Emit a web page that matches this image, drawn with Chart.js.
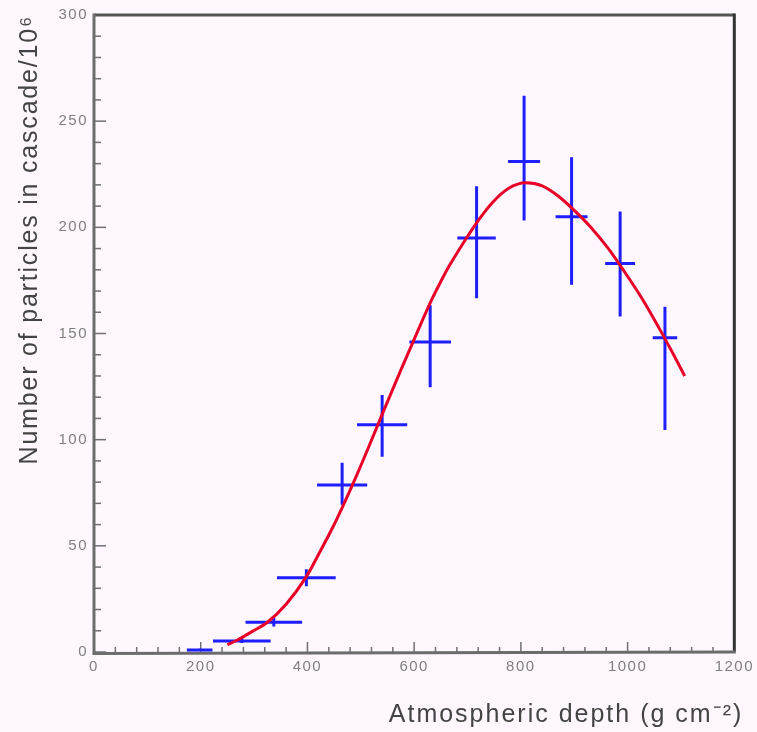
<!DOCTYPE html>
<html><head><meta charset="utf-8">
<script src="https://cdn.jsdelivr.net/npm/chart.js@4/dist/chart.umd.min.js"></script>
<style>html,body{margin:0;padding:0;background:#fef7fd;}canvas{display:block;}</style>
</head><body>
<canvas id="c" width="757" height="732"></canvas>
<script>
// ---- data ----
const depth      = [198, 277, 337, 398, 465, 540, 630, 717, 806, 895, 986, 1070];
const depthErr   = [24, 54, 53, 55, 47, 47, 39, 36, 30, 30, 28, 23];
const particles  = [1, 5.2, 14, 35, 78.7, 107, 146, 195, 231, 205, 183, 148];
const errUp      = [0.5, 1, 2, 4, 10.4, 14, 17.3, 24.3, 31, 28, 24.5, 14.6];
const errDown    = [0.5, 1, 2, 4, 9.4, 15, 21.3, 28.4, 27.8, 32, 25, 43.5];
const fitDepth     = [250, 267, 296, 325, 360, 398, 422, 447, 466, 491, 513, 541, 572, 597, 616, 634, 650, 665, 693, 718, 746, 778, 809, 840, 871, 902, 933, 964, 989, 1027, 1058, 1083, 1107];
const fitParticles = [3.5, 5.4, 9.6, 14, 22.5, 35.5, 46.5, 58.5, 68.5, 82.5, 95.5, 112.5, 131, 145.5, 156.5, 166.5, 174.5, 181.5, 193, 202.5, 211.5, 218.5, 221, 219.5, 214.5, 207.5, 199.5, 190, 181, 166.5, 153, 141.5, 130];
const xTickValues = [0, 200, 400, 600, 800, 1000, 1200];
const yTickValues = [0, 50, 100, 150, 200, 250, 300];
const xTitle = 'Atmospheric depth (g cm\u207B\u00B2)';
const yTitle = 'Number of particles in cascade/10\u2076';

// ---- derived datasets ----
const hSeg = [], vSeg = [];
depth.forEach((d, i) => {
  hSeg.push({x: d - depthErr[i], y: particles[i]}, {x: d + depthErr[i], y: particles[i]}, {x: d, y: null});
  vSeg.push({x: d, y: particles[i] - errDown[i]}, {x: d, y: particles[i] + errUp[i]}, {x: d, y: null});
});
const fit = fitDepth.map((d, i) => ({x: d, y: fitParticles[i]}));

const FONT = '"Liberation Sans", Arial, Helvetica, sans-serif';

const framePlugin = {
  id: 'frame',
  beforeDraw(chart) {
    const ctx = chart.ctx;
    ['x', 'y'].forEach(id => {
      const s = chart.scales[id];
      if (s._patched) return;
      const ot = s.drawTitle, ol = s.drawLabels;
      const dx = id === 'x' ? 9 : 0;
      s.drawTitle = function(...a) { ctx.save(); ctx.letterSpacing = id === 'x' ? '2px' : '1.8px'; ctx.translate(dx, 0); ot.apply(this, a); ctx.restore(); };
      s.drawLabels = function(...a) { ctx.save(); ctx.letterSpacing = '1.5px'; ol.apply(this, a); ctx.restore(); };
      s._patched = true;
    });
  },
  beforeDatasetsDraw(chart) {
    const {ctx, chartArea: a, scales: {x, y}} = chart;
    ctx.save();
    // ticks (inward)
    ctx.strokeStyle = '#707070';
    ctx.lineWidth = 1.5;
    for (let v = 0; v <= 1200; v += 40) {
      const px = x.getPixelForValue(v);
      const len = (v % 200 === 0) ? 10 : 5;
      ctx.beginPath(); ctx.moveTo(px, a.bottom); ctx.lineTo(px, a.bottom - len); ctx.stroke();
    }
    for (let v = 0; v <= 300; v += 10) {
      const py = y.getPixelForValue(v);
      const len = (v % 50 === 0) ? 12 : 7;
      ctx.beginPath(); ctx.moveTo(a.left, py); ctx.lineTo(a.left + len, py); ctx.stroke();
    }
    ctx.lineWidth = 3;
    ctx.strokeStyle = '#555555';
    ctx.beginPath(); ctx.moveTo(a.left, a.top); ctx.lineTo(a.right, a.top); ctx.stroke();
    ctx.strokeStyle = '#333333';
    ctx.beginPath(); ctx.moveTo(a.right, a.top - 1.5); ctx.lineTo(a.right, a.bottom); ctx.stroke();
    ctx.strokeStyle = '#6c6c6c';
    ctx.beginPath(); ctx.moveTo(a.left, a.top - 1.5); ctx.lineTo(a.left, a.bottom + 1.5); ctx.lineTo(a.right + 1.5, a.bottom); ctx.stroke();
    ctx.restore();
  }
};

new Chart(document.getElementById('c'), {
  type: 'line',
  data: {
    datasets: [
      {data: fit, borderColor: 'rgb(232,0,40)', borderWidth: 3, pointRadius: 0, cubicInterpolationMode: 'monotone', order: 0},
      {data: hSeg, borderColor: 'rgb(30,30,255)', borderWidth: 3, pointRadius: 0, spanGaps: false, order: 1},
      {data: vSeg, borderColor: 'rgb(30,30,255)', borderWidth: 3, pointRadius: 0, spanGaps: false, order: 1}
    ]
  },
  options: {
    responsive: false,
    animation: false,
    devicePixelRatio: 1,
    layout: {padding: {top: 15, right: 21, left: 0, bottom: 0}},
    plugins: {legend: {display: false}, tooltip: {enabled: false}},
    scales: {
      x: {
        type: 'linear', min: 0, max: 1200,
        afterBuildTicks: s => { s.ticks = xTickValues.map(v => ({value: v})); },
        afterFit: s => { s.height = 80; },
        grid: {display: false, drawTicks: false},
        border: {display: false},
        ticks: {color: '#808080', font: {family: FONT, size: 15}, padding: 6, maxRotation: 0, callback: v => String(v)},
        title: {display: true, text: xTitle, align: 'end', color: '#444', font: {family: FONT, size: 25}, padding: {top: 0, bottom: 2}}
      },
      y: {
        type: 'linear', min: 0, max: 300,
        afterBuildTicks: s => { s.ticks = yTickValues.map(v => ({value: v})); },
        afterFit: s => { s.width = 94; },
        grid: {display: false, drawTicks: false},
        border: {display: false},
        ticks: {color: '#808080', font: {family: FONT, size: 15}, padding: 6, callback: v => String(v)},
        title: {display: true, text: yTitle, align: 'end', color: '#444', font: {family: FONT, size: 25}, padding: {top: 15, bottom: 0}}
      }
    }
  },
  plugins: [framePlugin]
});
</script>
</body></html>
